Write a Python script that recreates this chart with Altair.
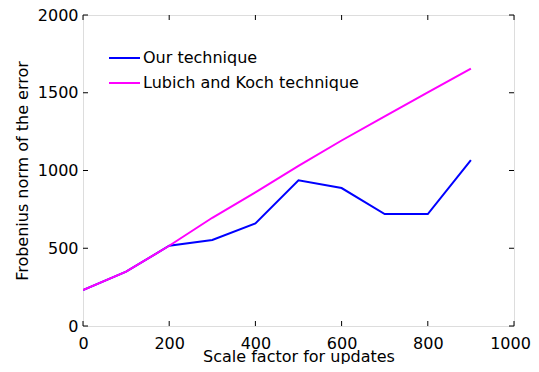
import altair as alt
import pandas as pd

scale = [0, 100, 200, 300, 400, 500, 600, 700, 800, 900]
ours = [231, 349, 516, 553, 660, 937, 887, 720, 720, 1067]
lubich = [231, 349, 516, 696, 860, 1030, 1193, 1348, 1503, 1655]
series_names = ["Our technique", "Lubich and Koch technique"]
series_colors = ["#0000FF", "#FF00FF"]
x_ticks = [0, 200, 400, 600, 800, 1000]
y_ticks = [0, 500, 1000, 1500, 2000]

W, H = 431, 311
FONT = "DejaVu Sans"
FS = 16

rows = []
for x, a, b in zip(scale, ours, lubich):
    rows.append({"x": x, "y": a, "series": series_names[0]})
    rows.append({"x": x, "y": b, "series": series_names[1]})
df = pd.DataFrame(rows)

xs = alt.Scale(domain=[0, 1000], nice=False, zero=False)
ys = alt.Scale(domain=[0, 2000], nice=False, zero=False)

lines = alt.Chart(df).mark_line(strokeWidth=2, clip=True).encode(
    x=alt.X("x:Q", scale=xs, title="Scale factor for updates",
            axis=alt.Axis(values=x_ticks, ticks=False, domain=False, grid=False,
                          format="d", labelPadding=9, labelFontSize=FS, labelFont=FONT,
                          labelColor="black", titleFontSize=FS, titleFont=FONT,
                          titleFontWeight="normal", titleColor="black",
                          titleBaseline="alphabetic", titleY=35,
                          labelOffset={"condition": {"test": "datum.value == 1000", "value": -4}, "value": 0},
                          labelFlush=False, labelOverlap=False)),
    y=alt.Y("y:Q", scale=ys, title="Frobenius norm of the error",
            axis=alt.Axis(values=y_ticks, ticks=False, domain=False, grid=False,
                          format="d", labelPadding=5, labelFontSize=FS, labelFont=FONT,
                          labelColor="black", titleFontSize=FS, titleFont=FONT,
                          titleFontWeight="normal", titleColor="black", titlePadding=7,
                          labelFlush=False, labelOverlap=False)),
    color=alt.Color("series:N", sort=series_names,
                    scale=alt.Scale(domain=series_names, range=series_colors),
                    legend=alt.Legend(title=None, orient="none", legendX=25, legendY=26.5,
                                      symbolType="stroke", symbolSize=961,
                                      symbolStrokeWidth=2, labelFontSize=FS,
                                      labelFont=FONT, labelColor="black", labelLimit=0,
                                      labelOffset=2, rowPadding=0, padding=0)),
)

xt = pd.DataFrame({"v": x_ticks})
yt = pd.DataFrame({"v": y_ticks})
tl = 5
tb = alt.Chart(xt).mark_rule(color="black", strokeWidth=1).encode(
    x=alt.X("v:Q", scale=xs), y=alt.value(H), y2=alt.value(H - tl))
tt = alt.Chart(xt).mark_rule(color="black", strokeWidth=1).encode(
    x=alt.X("v:Q", scale=xs), y=alt.value(0), y2=alt.value(tl))
tlft = alt.Chart(yt).mark_rule(color="black", strokeWidth=1).encode(
    y=alt.Y("v:Q", scale=ys), x=alt.value(0), x2=alt.value(tl))
trt = alt.Chart(yt).mark_rule(color="black", strokeWidth=1).encode(
    y=alt.Y("v:Q", scale=ys), x=alt.value(W), x2=alt.value(W - tl))

chart = alt.layer(lines, tb, tt, tlft, trt).properties(
    width=W, height=H,
    autosize=alt.AutoSizeParams(type="none"),
    padding={"left": 75, "top": 7, "right": 17, "bottom": 38},
).configure_view(stroke="black", strokeWidth=1.2).configure(background="white")

chart.save("out.html", embed_options={"renderer": "svg", "actions": False})
